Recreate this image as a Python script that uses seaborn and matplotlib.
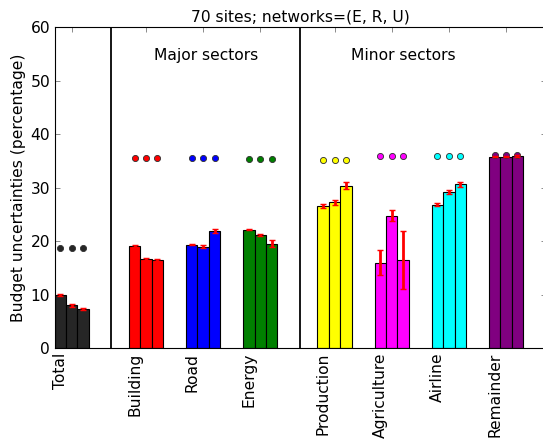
import numpy as np
import pandas as pd
import seaborn as sns
import matplotlib.pyplot as plt

sns.set_theme(style="ticks")
plt.rcParams["font.family"] = ["DejaVu Sans"]
plt.rcParams["text.color"] = "black"
plt.rcParams["axes.labelcolor"] = "black"

# sectors and their group positions on the x axis
labels = ["Total", "Building", "Road", "Energy",
          "Production", "Agriculture", "Airline", "Remainder"]
group_x = [0.0, 1.3, 2.3, 3.3, 4.6, 5.6, 6.6, 7.6]
colors = ["#262626", "red", "blue", "green", "yellow", "magenta", "cyan", "purple"]
networks = ["E", "R", "U"]

# bar heights per network (E, R, U)
vals_E = [9.9, 19.05, 19.3, 22.15, 26.55, 16.0, 26.85, 35.8]
vals_R = [8.0, 16.75, 19.0, 21.15, 27.25, 24.75, 29.15, 35.8]
vals_U = [7.3, 16.45, 21.9, 19.55, 30.4, 16.45, 30.6, 35.9]
# error bar half-widths
err_E = [0.15, 0.2, 0.1, 0.05, 0.35, 2.3, 0.2, 0.15]
err_R = [0.35, 0.2, 0.35, 0.25, 0.4, 1.0, 0.35, 0.15]
err_U = [0.15, 0.2, 0.35, 0.65, 0.6, 5.4, 0.45, 0.15]
# reference dots above each group
dots = [18.7, 35.6, 35.6, 35.4, 35.2, 36.0, 36.0, 36.05]

bar_w = 0.2
rows = []
for i, lab in enumerate(labels):
    for j, (v, e) in enumerate(zip([vals_E[i], vals_R[i], vals_U[i]],
                                   [err_E[i], err_R[i], err_U[i]])):
        rows.append({"sector": lab, "net": networks[j],
                     "x": round(group_x[i] + bar_w * (j + 0.5), 3),
                     "value": v, "err": e, "dot": dots[i]})
df = pd.DataFrame(rows)

fs = 14

fig = plt.figure(figsize=(543 / 80, 445 / 80), dpi=80)
ax = fig.add_axes([0.1004, 0.2173, 0.905, 0.722])

sns.barplot(data=df, x="x", y="value", hue="sector",
            palette=dict(zip(labels, colors)), native_scale=True,
            width=1, dodge=False, saturation=1, legend=False,
            edgecolor="black", linewidth=1.0, errorbar=None, ax=ax)

ax.errorbar(df["x"], df["value"], yerr=df["err"], fmt="none",
            ecolor="red", elinewidth=2.5, capsize=3, capthick=1.3, zorder=5)

for lab, c in zip(labels, colors):
    sub = df[df["sector"] == lab]
    ax.plot(sub["x"], sub["dot"], "o", color=c, markersize=5.5,
            markeredgecolor="#333333", markeredgewidth=0.8, linestyle="none")

# section dividers
for xd in [0.98, 4.29]:
    ax.axvline(xd, color="black", linewidth=1.6)

ax.text(2.65, 54.7, "Major sectors", ha="center", va="center", fontsize=fs)
ax.text(6.1, 54.7, "Minor sectors", ha="center", va="center", fontsize=fs)

ax.set_xlim(0, 8.6)
ax.set_ylim(0, 60)
ax.set_yticks(range(0, 61, 10))

# labels sit under the first bar, tick marks at group centres
first_x = [g + bar_w / 2 for g in group_x]
centers = [g + 1.5 * bar_w for g in group_x]
ax.set_xticks(first_x)
ax.set_xticklabels(labels, rotation=90, fontsize=fs)
ax.set_xticks(centers, minor=True)
ax.tick_params(axis="x", which="major", length=0, pad=4, labelcolor="black")
ax.tick_params(axis="x", which="minor", direction="in", length=4.5,
               top=True, bottom=True, width=0.6, color="#555555")
ax.tick_params(axis="y", direction="in", length=4.5, left=True, right=True,
               width=0.6, color="#555555", labelsize=fs, pad=4,
               labelcolor="black")

ax.set_xlabel("")
ax.set_ylabel("Budget uncertainties (percentage)", fontsize=fs)
ax.set_title("70 sites; networks=(E, R, U)", fontsize=fs, pad=5)

for s in ax.spines.values():
    s.set_linewidth(1.0)
    s.set_color("black")

plt.savefig("out.png", dpi=80)
